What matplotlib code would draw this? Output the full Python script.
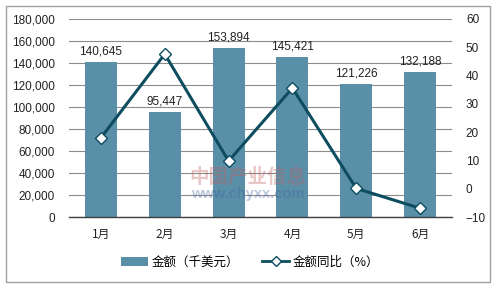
import matplotlib
matplotlib.use("Agg")
import matplotlib.pyplot as plt
from matplotlib.patches import Rectangle
from matplotlib.lines import Line2D
from matplotlib.patches import Patch

plt.rcParams['font.family'] = ['Liberation Sans', 'Noto Sans CJK SC', 'DejaVu Sans']

months = ['1月', '2月', '3月', '4月', '5月', '6月']
amount = [140645, 95447, 153894, 145421, 121226, 132188]
yoy = [18.0, 47.6, 9.8, 35.6, 0.1, -6.9]
bar_label = '金额（千美元）'
line_label = '金额同比（%）'

bar_color = '#5A8FA8'
line_color = '#0E4D5F'
grid_color = '#8C8C8C'

fig = plt.figure(figsize=(5.0, 2.89), dpi=100)
ax = fig.add_axes([69/500, 1-217/289, (452-69)/500, (217-19)/289])
ax2 = ax.twinx()

x = list(range(len(months)))
ax.bar(x, amount, width=0.5, color=bar_color, zorder=2)
for xi, v in zip(x, amount):
    ax.text(xi, v + 4000, f'{v:,}', ha='center', va='bottom', fontsize=8.5, color='#222222')

ax.set_ylim(0, 180000)
ax.set_yticks(range(0, 180001, 20000))
ax.set_yticklabels([f'{v:,}' for v in range(0, 180001, 20000)])
ax.set_xlim(-0.5, len(months) - 0.5)
ax.set_xticks(x)
ax.set_xticklabels(months, family=['Noto Sans CJK SC'])
ax.grid(axis='y', color=grid_color, linewidth=0.8, zorder=0)
ax.set_axisbelow(True)
for s in ['top', 'left', 'right']:
    ax.spines[s].set_visible(False)
ax.spines['bottom'].set_color('#404040')
ax.spines['bottom'].set_linewidth(1.0)
ax.tick_params(axis='both', length=0, labelsize=8.5, colors='#222222')
ax.tick_params(axis='y', pad=10)
ax.tick_params(axis='x', pad=8)

ax2.plot(x, yoy, color=line_color, linewidth=2.2, marker='D', markersize=6,
         markerfacecolor='white', markeredgecolor=line_color, markeredgewidth=1.0, zorder=5)
ax2.set_ylim(-10, 60)
ax2.set_yticks(range(-10, 61, 10))
for s in ['top', 'left', 'right', 'bottom']:
    ax2.spines[s].set_visible(False)
ax2.tick_params(axis='y', length=0, labelsize=8.5, colors='#222222', pad=10)

# watermark
fig.text(248/500, 1-177/289, '中国产业信息', ha='center', va='center', fontsize=14,
         color='#C06060', alpha=0.35, family=['Noto Sans CJK SC'], fontweight='bold')
fig.text(248/500, 1-194/289, 'www.chyxx.com', ha='center', va='center', fontsize=10.5,
         color='#4060A0', alpha=0.35, fontweight='bold')

# legend
handles = [Patch(facecolor=bar_color, edgecolor='none'),
           Line2D([0], [0], color=line_color, linewidth=2, marker='D', markersize=5,
                  markerfacecolor='white', markeredgecolor=line_color)]
fig.legend(handles, [bar_label, line_label], loc='center', bbox_to_anchor=(250/500, 1-262/289),
           ncol=2, frameon=False, prop={'family': ['Noto Sans CJK SC'], 'size': 9},
           handlelength=2.2, columnspacing=1.8, handletextpad=0.3)

# outer border
fig.patches.append(Rectangle((6/500, 1-282/289), (490-6)/500, (282-6)/289,
                             transform=fig.transFigure, fill=False, edgecolor='#A0A0A0', linewidth=1))

fig.savefig('out.png', dpi=100)
